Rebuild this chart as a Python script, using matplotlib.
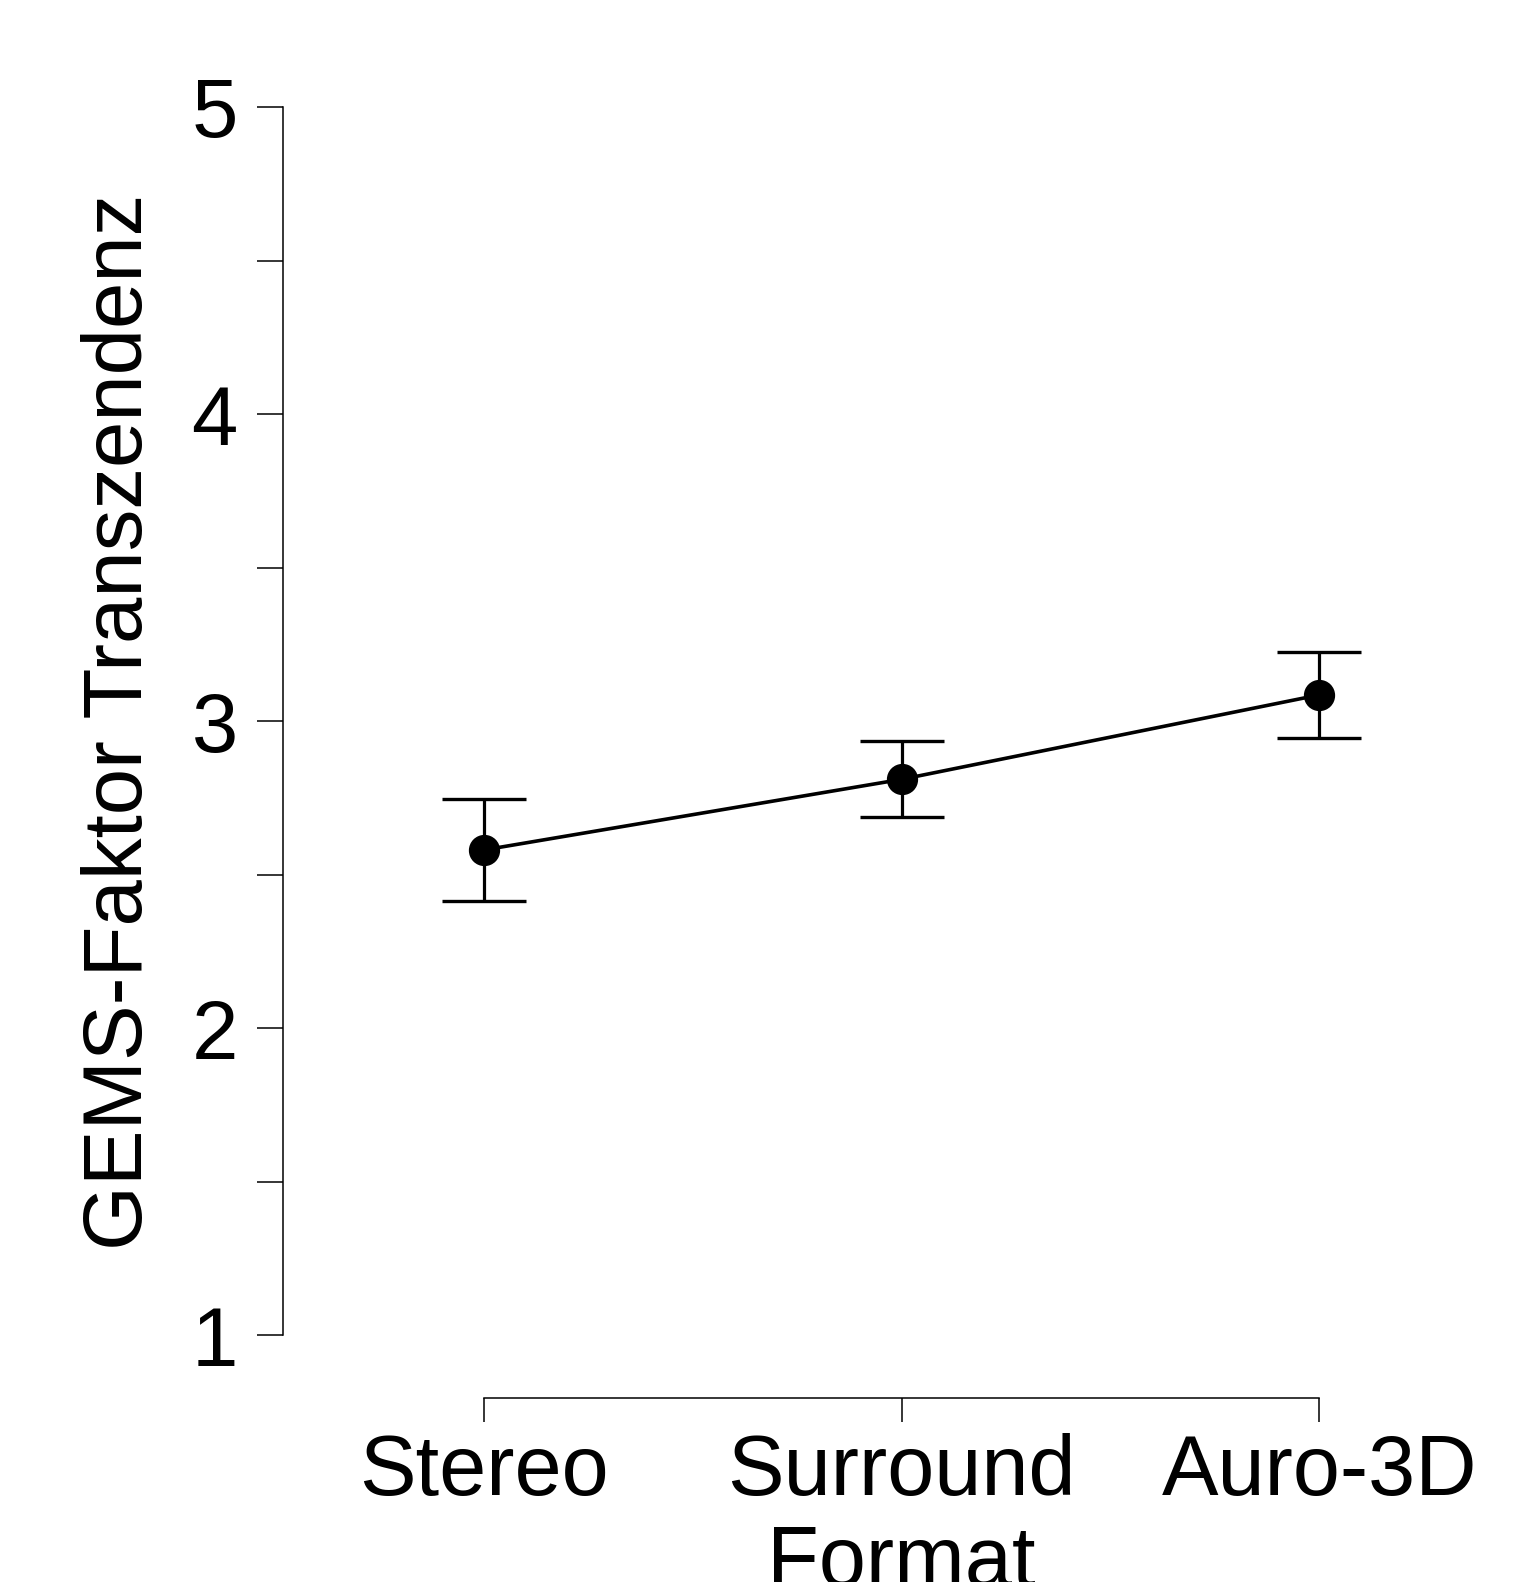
import matplotlib
matplotlib.use("Agg")
import matplotlib.pyplot as plt
import numpy as np

# data
formats = ["Stereo", "Surround", "Auro-3D"]
means = [2.58, 2.81, 3.085]
ci_half = [0.167, 0.124, 0.14]
y_ticks = [1, 1.5, 2, 2.5, 3, 3.5, 4, 4.5, 5]
y_tick_labels = ["1", "", "2", "", "3", "", "4", "", "5"]

plt.rcParams['font.family'] = ['Liberation Sans', 'DejaVu Sans']

W, H = 1539, 1582
fig = plt.figure(figsize=(W / 100, H / 100), dpi=100)

# axes box in pixels (left spine at x=283, bottom spine at y=1398)
left_px, right_px, top_px, bottom_px = 283, 1520, 107, 1398
ax = fig.add_axes([left_px / W, 1 - bottom_px / H,
                   (right_px - left_px) / W, (bottom_px - top_px) / H])

x = np.arange(len(formats))
ax.errorbar(x, means, yerr=ci_half, color='black', lw=2.6, capsize=30,
            capthick=2.4, elinewidth=2.3, marker='o', markersize=21.5,
            zorder=3)

ax.set_xlim(-0.481, 2.481)
ax.set_ylim(0.795, 5)

for s in ['top', 'right']:
    ax.spines[s].set_visible(False)
ax.spines['left'].set_bounds(1, 5)
ax.spines['bottom'].set_bounds(0, 2)
ax.spines['left'].set_linewidth(1.1)
ax.spines['bottom'].set_linewidth(1.1)

ax.set_yticks(y_ticks)
ax.set_yticklabels(y_tick_labels)
ax.set_xticks(x)
ax.set_xticklabels(formats)
ax.tick_params(axis='y', length=18.5, width=1.1, labelsize=60, pad=14)
ax.tick_params(axis='x', length=17, width=1.1, labelsize=61, pad=8)

ax.set_ylabel("GEMS-Faktor Transzendenz", fontsize=60)
ax.yaxis.set_label_coords(-0.100, 0.524)
ax.set_xlabel("Format", fontsize=61, labelpad=8)

fig.savefig("out.png", dpi=100)
